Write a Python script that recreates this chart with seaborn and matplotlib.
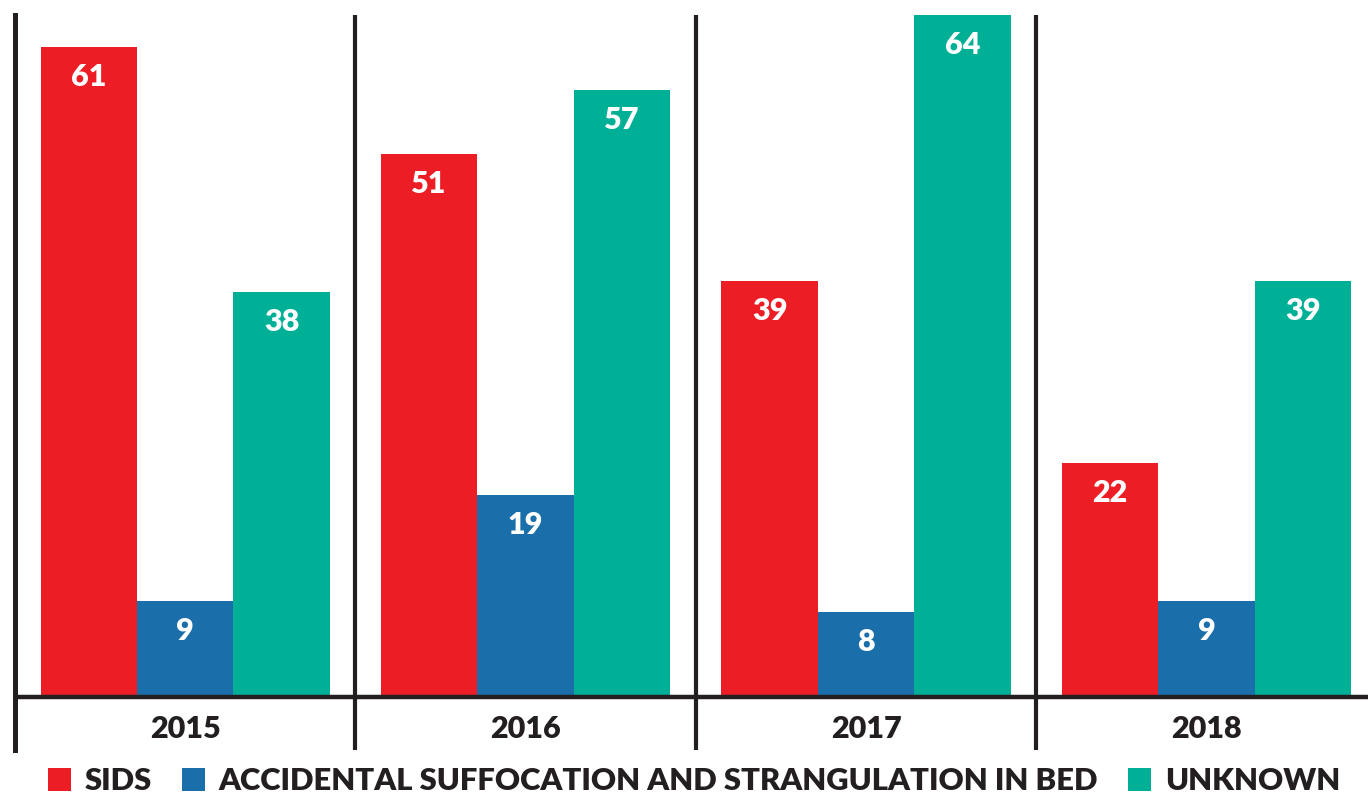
import matplotlib
matplotlib.use("Agg")
import matplotlib.pyplot as plt
from matplotlib.patches import Patch
import seaborn as sns
import pandas as pd

years = ["2015", "2016", "2017", "2018"]
categories = ["SIDS", "ACCIDENTAL SUFFOCATION AND STRANGULATION IN BED", "UNKNOWN"]
sids = [61, 51, 39, 22]
accidental = [9, 19, 8, 9]
unknown = [38, 57, 64, 39]
colors = ["#ED1D25", "#1A6FAB", "#00B096"]

rows = []
for i, y in enumerate(years):
    for cat, vals in zip(categories, [sids, accidental, unknown]):
        rows.append({"year": y, "cause": cat, "value": vals[i]})
df = pd.DataFrame(rows)

sns.set_theme(style="white")
plt.rcParams["font.family"] = ["Lato", "DejaVu Sans"]

W, H = 1368, 793
fig = plt.figure(figsize=(W / 100, H / 100), dpi=100)
left_px, top_px, bottom_px = 15, 15, 750
ax = fig.add_axes([left_px / W, (H - bottom_px) / H, (340.4 * 4) / W, (bottom_px - top_px) / H])

sns.barplot(data=df, x="year", y="value", hue="cause",
            palette=colors, width=0.85, ax=ax, legend=False, saturation=1,
            edgecolor="none", linewidth=0)

ymax = 64
px_per_unit = (697 - top_px) / ymax
ymin = -(bottom_px - 697) / px_per_unit
ax.set_ylim(ymin, ymax)
ax.set_xlim(-0.5, 3.5)

for cont in ax.containers:
    for bar in cont:
        h = bar.get_height()
        ax.annotate(f"{int(round(h))}", (bar.get_x() + bar.get_width() / 2, h),
                    xytext=(0, -30), textcoords="offset pixels",
                    ha="center", va="center", color="white",
                    fontsize=22, fontweight="heavy")

for s in ["top", "right", "bottom"]:
    ax.spines[s].set_visible(False)
ax.spines["left"].set_linewidth(3.6)
ax.spines["left"].set_color("#231F20")
ax.axhline(0, color="#231F20", lw=3.2, zorder=5)
for x in [0.5, 1.5, 2.5]:
    ax.axvline(x, color="#231F20", lw=3.0, zorder=5)

ax.set_xticks([])
ax.set_yticks([])
ax.set_xlabel("")
ax.set_ylabel("")
for i, y in enumerate(years):
    ax.text(i, ymin / 2 - 0.55, y, ha="center", va="center", fontsize=22,
            fontweight="heavy", color="#231F20")

handles = [Patch(facecolor=c, edgecolor="none") for c in colors]
leg = fig.legend(handles, categories, loc="center", bbox_to_anchor=(0.5 + 10 / W, 1 - 781 / H),
                 ncol=3, frameon=False, handlelength=0.75, handleheight=0.75,
                 handletextpad=0.45, columnspacing=0.95, borderaxespad=0,
                 prop={"size": 22.3, "weight": "heavy"})
for t in leg.get_texts():
    t.set_color("#231F20")

fig.savefig("out.png", dpi=100)
